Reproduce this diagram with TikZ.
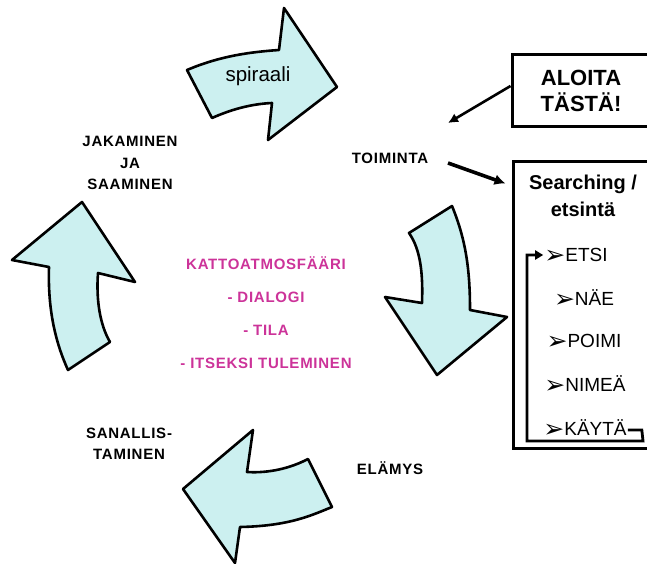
\documentclass[tikz,border=0pt]{standalone}
\usepackage{fontspec}
\setmainfont{Liberation Sans}
\newfontfamily\spacedfont[LetterSpace=5]{Liberation Sans}
\newfontfamily\dingfont{DejaVu Sans}
\usetikzlibrary{
	arrows.meta,
}
\definecolor{arrowfill}{RGB}{204,240,240}
\definecolor{textpink}{RGB}{204,51,153}
\newcommand{\itembullet}{\smash{\raisebox{-1.5pt}{\dingfont\fontsize{25}{25}\selectfont ➢}}}

\begin{document}
\begin{tikzpicture}[x=1pt,y=-1pt,
		bigarrow/.style={draw=black,fill=arrowfill,line width=2.6pt,line join=round},
		caplabel/.style={font=\spacedfont\bfseries\fontsize{15}{21.5}\selectfont,align=center,inner sep=0pt},
		framebox/.style={draw=black,line width=3pt,inner sep=0pt},
		listitem/.style={font=\fontsize{19}{19}\selectfont,inner sep=1pt},
		loopline/.style={line width=2.8pt,-{Triangle[length=8pt,width=9pt]}}]
		\useasboundingbox (0,0) rectangle (647,564);
		\clip (0,0) rectangle (647,564);
		\draw [bigarrow] (187,70) .. controls (220,56) and (250,52) .. (279,50) -- (284,8) -- (337,87) -- (268,140) -- (272,103) .. controls (250,104) and (230,110) .. (212,118) -- cycle;
		\node (spiraali) at (258,76) {\fontsize{20.5}{20.5}\selectfont spiraali};
		\draw [bigarrow] (409,233) -- (452,206) .. controls (466,240) and (470,270) .. (470,310) -- (507,317) -- (437,375) -- (385,297) -- (422,303) .. controls (423,275) and (421,250) .. (409,233) -- cycle;
		\draw [bigarrow] (183,489) -- (253,430) -- (247,472) .. controls (262,473) and (285,471) .. (308,459) -- (332,507) .. controls (312,515) and (290,526) .. (240,527) -- (235,563) -- cycle;
		\draw [bigarrow] (82,202) -- (135,282) -- (98,273) .. controls (96,300) and (100,325) .. (110,342) -- (68,370) .. controls (52,335) and (48,300) .. (49,267) -- (12,260) -- cycle;
		\node [caplabel] (jakaminen) at (130,163) {JAKAMINEN\\JA\\SAAMINEN};
		\node [caplabel] (toiminta) at (390,158) {TOIMINTA};
		\node [caplabel] (elamys) at (390,468) {ELÄMYS};
		\node [caplabel] (sanallis) at (129,444) {SANALLIS-\\TAMINEN};
		\node [caplabel,text=textpink,font=\spacedfont\bfseries\fontsize{15}{33}\selectfont] (katto) at (266,313) {KATTOATMOSFÄÄRI\\- DIALOGI\\- TILA\\- ITSEKSI TULEMINEN};
		\node [framebox,minimum width=138pt,minimum height=72pt,align=center,font=\bfseries\fontsize{22}{26}\selectfont] (aloita) at (581,91) {ALOITA\\TÄSTÄ!};
		\node [framebox,minimum width=137pt,minimum height=286pt] (searchbox) at (581.5,305) {};
		\node [align=center,font=\bfseries\fontsize{20}{27}\selectfont] (searching) at (583,196) {Searching /\\etsintä};
		\node [listitem] (etsi) at (576,255) {\itembullet ETSI};
		\node [listitem] (nae) at (584,298) {\itembullet NÄE};
		\node [listitem] (poimi) at (584,341) {\itembullet POIMI};
		\node [listitem] (nimea) at (585,384) {\itembullet NIMEÄ};
		\node [listitem] (kayta) at (585,428) {\itembullet KÄYTÄ};
		\coordinate (toiminta-in) at (448,123);
		\coordinate (toiminta-out) at (448,163);
		\draw [black,line width=2.6pt,-{Latex[length=10pt,width=10pt]}] ([yshift=5pt]aloita.west) -- (toiminta-in);
		\draw [black,line width=3.6pt,-{Latex[length=11pt,width=11pt]}] (toiminta-out) -- ([xshift=-6pt,yshift=-23pt]searchbox.north west);
		\draw [loopline] ([yshift=-2pt]kayta.east) -- ++(14,0) -- (643,441) -- (527,441) |- (etsi.west);
		\end{tikzpicture}
\end{document}
